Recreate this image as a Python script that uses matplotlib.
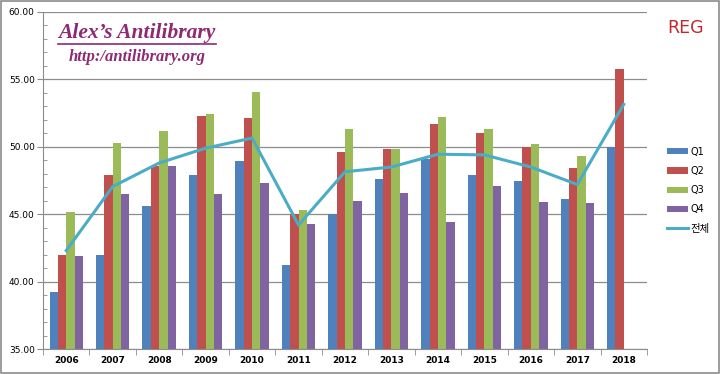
import matplotlib.pyplot as plt
from matplotlib.lines import Line2D
from matplotlib.patches import Rectangle
from matplotlib.ticker import MultipleLocator, FormatStrFormatter
import numpy as np

plt.rcParams['font.family'] = ['DejaVu Sans', 'Noto Sans CJK KR']

years = ['2006', '2007', '2008', '2009', '2010', '2011', '2012',
         '2013', '2014', '2015', '2016', '2017', '2018']
q1 = [39.2, 42.0, 45.6, 47.9, 48.95, 41.2, 45.0, 47.6, 49.1, 47.9, 47.5, 46.1, 50.0]
q2 = [42.0, 47.9, 48.6, 52.3, 52.1, 45.0, 49.6, 49.8, 51.7, 51.0, 50.0, 48.4, 55.75]
q3 = [45.15, 50.3, 51.15, 52.4, 54.05, 45.3, 51.3, 49.8, 52.2, 51.35, 50.2, 49.3, np.nan]
q4 = [41.9, 46.5, 48.55, 46.5, 47.3, 44.3, 46.0, 46.6, 44.45, 47.1, 45.9, 45.8, np.nan]
total = [42.3, 47.05, 48.8, 49.9, 50.65, 44.2, 48.15, 48.5, 49.45, 49.4, 48.5, 47.2, 53.15]

series = [('Q1', q1, '#4F81BD'), ('Q2', q2, '#C0504D'),
          ('Q3', q3, '#9BBB59'), ('Q4', q4, '#8064A2')]

fig = plt.figure(figsize=(7.2, 3.74), dpi=100)
ax = fig.add_axes([43 / 720, 1 - 349 / 374, 604 / 720, 337 / 374])

x = np.arange(len(years))
w = 0.18
base = 35
handles = []
for i, (name, vals, col) in enumerate(series):
    v = np.array(vals, dtype=float)
    b = ax.bar(x + (i - 1.5) * w, v - base, w, bottom=base, color=col,
               label=name, zorder=2)
    handles.append(b)
ln, = ax.plot(x, total, color='#4BACC6', lw=2.2, label='전체', zorder=3)
handles.append(ln)

ax.set_xlim(-0.5, len(years) - 0.5)
ax.set_ylim(35, 60)
ax.yaxis.set_major_locator(MultipleLocator(5))
ax.yaxis.set_minor_locator(MultipleLocator(1))
ax.yaxis.set_major_formatter(FormatStrFormatter('%.2f'))
ax.grid(axis='y', color='#8C8C8C', lw=0.9, zorder=0)
ax.tick_params(axis='y', which='major', direction='out', length=4,
               color='#8C8C8C', labelsize=6.5, pad=2)
ax.tick_params(axis='y', which='minor', direction='in', length=3,
               color='#8C8C8C')

ax.set_xticks(x)
ax.set_xticklabels(years, fontsize=6.5, fontweight='bold')
ax.set_xticks(np.arange(len(years) + 1) - 0.5, minor=True)
ax.tick_params(axis='x', which='major', length=0, pad=5)
ax.tick_params(axis='x', which='minor', direction='out', length=4,
               color='#8C8C8C')

for s in ['top', 'right']:
    ax.spines[s].set_visible(False)
for s in ['left', 'bottom']:
    ax.spines[s].set_color('#8C8C8C')

leg = ax.legend(handles=handles, loc='upper left',
                bbox_to_anchor=(658 / 720, 1 - 138 / 374),
                bbox_transform=fig.transFigure, frameon=False, fontsize=7,
                handlelength=2.2, handleheight=0.6, labelspacing=0.95,
                handletextpad=0.25)
leg.get_texts()[-1].set_fontsize(7.5)

fig.text(0.19, 1 - 33 / 374, 'Alex\u2019s Antilibrary', family='Liberation Serif',
         style='italic', weight='bold', fontsize=15.5, color='#8E2A73',
         ha='center', va='center')
fig.add_artist(Line2D([58 / 720, 216 / 720], [1 - 43.5 / 374, 1 - 43.5 / 374],
                      color='#8E2A73', lw=1.2, transform=fig.transFigure))
fig.text(0.19, 1 - 57 / 374, 'http:/antilibrary.org', family='Liberation Serif',
         style='italic', weight='bold', fontsize=12, color='#8E2A73',
         ha='center', va='center')

fig.text(686 / 720, 1 - 28 / 374, 'REG', fontsize=12.5, color='#C0282D',
         ha='center', va='center')

fig.add_artist(Rectangle((0.001, 0.002), 0.997, 0.995, fill=False,
                         edgecolor='#8C8C8C', lw=1.2, transform=fig.transFigure))

fig.savefig('out.png', dpi=100)
